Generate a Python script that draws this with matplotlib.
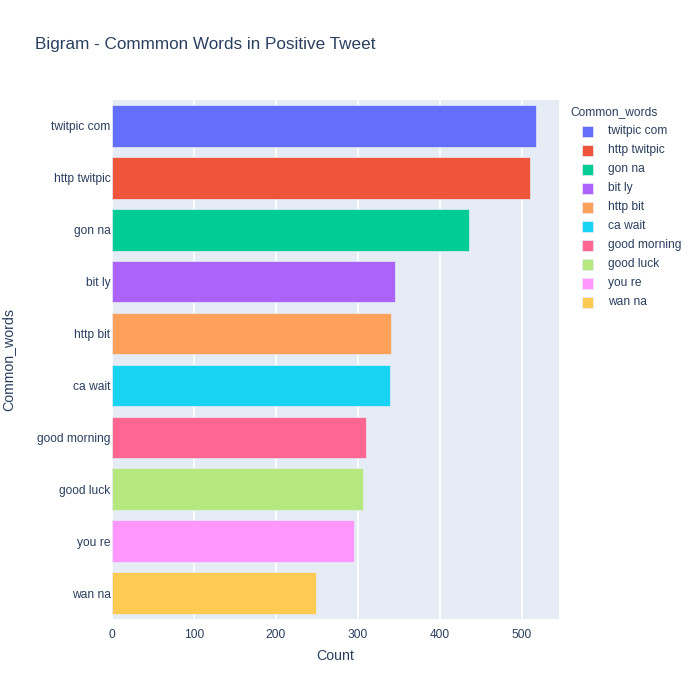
import matplotlib
matplotlib.use("Agg")
import matplotlib.pyplot as plt
from matplotlib.patches import Rectangle

plt.rcParams['font.family'] = ['Liberation Sans', 'DejaVu Sans']

words = ["twitpic com", "http twitpic", "gon na", "bit ly", "http bit",
         "ca wait", "good morning", "good luck", "you re", "wan na"]
counts = [518, 510, 436, 345, 340, 339, 310, 306, 295, 249]
colors = ["#636EFA", "#EF553B", "#00CC96", "#AB63FA", "#FFA15A",
          "#19D3F3", "#FF6692", "#B6E880", "#FF97FF", "#FECB52"]
xticks = [0, 100, 200, 300, 400, 500]

TXT = "#2a3f5f"
FS = 8.65
W, H = 700, 700
fig = plt.figure(figsize=(7, 7), dpi=100)
fig.patch.set_facecolor("white")
left, right, top, bottom = 112, 559, 100, 619
ax = fig.add_axes([left / W, 1 - bottom / H, (right - left) / W, (bottom - top) / H])
ax.set_facecolor("#E5ECF6")

ypos = list(range(len(words)))
for i, (w, c, col) in enumerate(zip(words, counts, colors)):
    ax.barh(i, c, height=0.8, color=col, edgecolor="#E5ECF6", linewidth=0.5, zorder=3)

ax.set_ylim(len(words) - 0.5, -0.5)
ax.set_xlim(0, 545.5)
ax.set_xticks(xticks)
ax.set_xticklabels([str(t) for t in xticks])
ax.set_yticks(ypos)
ax.set_yticklabels(words)
ax.xaxis.grid(True, color="white", linewidth=1.3, zorder=0)
ax.set_axisbelow(True)
for s in ax.spines.values():
    s.set_visible(False)
ax.tick_params(axis="both", length=0, labelsize=FS, labelcolor=TXT)
ax.tick_params(axis="x", pad=7)
ax.tick_params(axis="y", pad=1)

fig.text(335 / W, 1 - 656 / H, "Count", ha="center", va="center", fontsize=10.2, color=TXT)
fig.text(8 / W, 1 - 360 / H, "Common_words", ha="center", va="center", rotation=90,
         fontsize=10.2, color=TXT)
fig.text(35 / W, 1 - 45 / H, "Bigram - Commmon Words in Positive Tweet", ha="left",
         va="center", fontsize=12.3, color=TXT)

# legend
fig.text(570 / W, 1 - 112 / H, "Common_words", ha="left", va="center", fontsize=FS, color=TXT)
for i, (w, col) in enumerate(zip(words, colors)):
    yc = 131 + 19 * i
    fig.add_artist(Rectangle(((582) / W, 1 - (yc + 5.5) / H), 11 / W, 11 / H,
                             transform=fig.transFigure, facecolor=col,
                             edgecolor="#E5ECF6", linewidth=0.5))
    fig.text(608 / W, 1 - yc / H, w, ha="left", va="center", fontsize=FS, color=TXT)

fig.savefig("out.png", dpi=100, facecolor="white")
